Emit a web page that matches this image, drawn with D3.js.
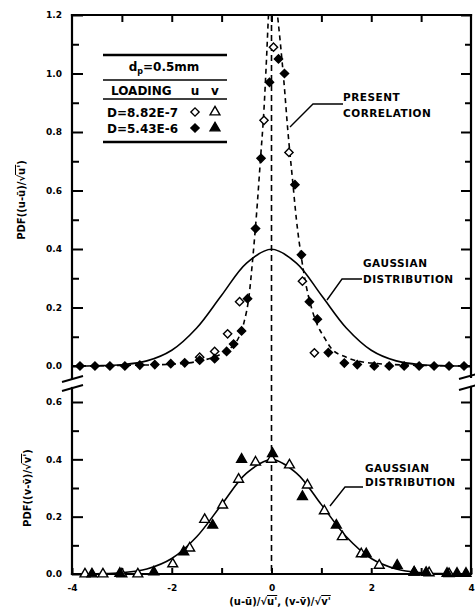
<!DOCTYPE html>
<html>
<head>
<meta charset="utf-8">
<script src="https://cdn.jsdelivr.net/npm/d3@7"></script>
<style>
  html, body { margin: 0; padding: 0; background: #fff; }
  svg { display: block; }
  text { font-family: "DejaVu Sans", "Liberation Sans", Arial, sans-serif; font-weight: bold; fill: #000; }
</style>
</head>
<body>
<div id="chart"></div>
<script>
// ---------------- DATA ----------------
// Top panel: u-component PDF
const uHollowX = [-1.44, -1.14, -0.88, -0.64, -0.15, 0.04, 0.35, 0.62, 0.86];          // D=8.82E-7 (open diamond)
const uHollowY = [0.03, 0.05, 0.11, 0.22, 0.84, 1.09, 0.73, 0.29, 0.045];
const uFilledX = [-3.84, -3.54, -3.24, -2.94, -2.64, -2.34, -2.02, -1.74, -1.44, -1.14, -0.9, -0.76, -0.6, -0.48, -0.32, -0.21, -0.04, 0.14, 0.26, 0.47, 0.6, 0.76, 0.92, 1.14, 1.46, 1.72, 2.06, 2.36, 2.66, 2.96, 3.26, 3.56, 3.86];  // D=5.43E-6 (filled diamond)
const uFilledY = [0, 0, 0, 0, 0.003, 0.005, 0.008, 0.011, 0.02, 0.025, 0.05, 0.075, 0.12, 0.23, 0.47, 0.71, 0.97, 1.05, 1.0, 0.62, 0.38, 0.22, 0.16, 0.046, 0.01, 0.005, 0, 0, 0, 0, 0, 0, 0];

// Present correlation (dashed)
const corrX = [-4, -3, -2, -1.5, -1.2, -1.0, -0.8, -0.65, -0.55, -0.45, -0.38, -0.3, -0.22, -0.15, -0.1, -0.06, 0.03, 0.12, 0.18, 0.25, 0.33, 0.42, 0.5, 0.6, 0.7, 0.8, 0.92, 1.05, 1.2, 1.5, 2, 3, 4];
const corrY = [0, 0.002, 0.006, 0.015, 0.028, 0.042, 0.065, 0.1, 0.15, 0.24, 0.36, 0.52, 0.71, 0.88, 1.05, 1.2, 1.34, 1.2, 1.1, 0.97, 0.8, 0.64, 0.5, 0.37, 0.27, 0.2, 0.14, 0.1, 0.06, 0.03, 0.01, 0.002, 0];

// Gaussian distribution (solid), same in both panels
const gaussX = [-4, -3.5, -3, -2.5, -2, -1.5, -1, -0.5, 0, 0.5, 1, 1.5, 2, 2.5, 3, 3.5, 4];
const gaussY = [0.0001, 0.0009, 0.0044, 0.0175, 0.054, 0.13, 0.242, 0.352, 0.399, 0.352, 0.242, 0.13, 0.054, 0.0175, 0.0044, 0.0009, 0.0001];

// Bottom panel: v-component PDF
const vHollowX = [-3.74, -3.38, -3.0, -2.68, -1.98, -1.64, -1.34, -0.98, -0.66, -0.32, 0.0, 0.36, 0.72, 1.06, 1.42, 1.8, 2.16, 2.86, 3.16, 3.56];  // D=8.82E-7 (open triangle)
const vHollowY = [0, 0, 0, 0, 0.035, 0.09, 0.19, 0.24, 0.33, 0.39, 0.40, 0.38, 0.31, 0.22, 0.13, 0.07, 0.03, 0.006, 0.004, 0.001];
const vFilledX = [-3.6, -3.04, -2.36, -1.76, -1.18, -0.6, 0.02, 0.62, 1.3, 1.9, 2.52, 2.86, 3.1, 3.52, 3.72, 3.9];  // D=5.43E-6 (filled triangle)
const vFilledY = [0, 0.002, 0.007, 0.077, 0.17, 0.40, 0.42, 0.27, 0.17, 0.07, 0.03, 0.006, 0.005, 0.002, 0.002, 0.002];

// Ticks
const xTicks = [-4, -3, -2, -1, 0, 1, 2, 3, 4];
const xTickLabels = [-4, -2, 0, 2, 4];
const yTopMajor = [0, 0.2, 0.4, 0.6, 0.8, 1.0, 1.2];
const yTopMinor = [0.1, 0.3, 0.5, 0.7, 0.9, 1.1];
const yBotMajor = [0, 0.2, 0.4, 0.6];
const yBotMinor = [0.1, 0.3, 0.5];

// ---------------- CHART ----------------
const W = 475, H = 608;
const svg = d3.select("#chart").append("svg").attr("width", W).attr("height", H);

const x = d3.scaleLinear().domain([-4, 4]).range([72, 471]);
const yTop = d3.scaleLinear().domain([0, 1.2]).range([366, 15]);
const yBot = d3.scaleLinear().domain([0, 0.6]).range([574, 402]);

const defs = svg.append("defs");
defs.append("clipPath").attr("id", "clipTop").append("rect")
  .attr("x", x(-4)).attr("y", yTop(1.2)).attr("width", x(4) - x(-4)).attr("height", yTop(0) - yTop(1.2) + 6);
defs.append("clipPath").attr("id", "clipBot").append("rect")
  .attr("x", x(-4)).attr("y", yBot(0.63)).attr("width", x(4) - x(-4)).attr("height", yBot(0) - yBot(0.63));

const fmtY = d3.format(".1f");
const fmtX = d => (d < 0 ? "-" + (-d) : String(d));

function styleAxis(g, w) {
  g.select(".domain").remove();
  g.selectAll(".tick line").attr("stroke", "#000").attr("stroke-width", w);
  g.selectAll(".tick text").style("font-size", "9px").style("font-family", "'DejaVu Sans', sans-serif").style("font-weight", "bold");
}

// Left axes (ticks inward)
svg.append("g").attr("transform", `translate(${x(-4)},0)`)
  .call(d3.axisLeft(yTop).tickValues(yTopMajor).tickSize(-11).tickPadding(10).tickFormat(fmtY))
  .call(g => styleAxis(g, 2));
svg.append("g").attr("transform", `translate(${x(-4)},0)`)
  .call(d3.axisLeft(yTop).tickValues(yTopMinor).tickSize(-7).tickFormat(""))
  .call(g => styleAxis(g, 2));
svg.append("g").attr("transform", `translate(${x(-4)},0)`)
  .call(d3.axisLeft(yBot).tickValues(yBotMajor).tickSize(-11).tickPadding(10).tickFormat(fmtY))
  .call(g => styleAxis(g, 2));
svg.append("g").attr("transform", `translate(${x(-4)},0)`)
  .call(d3.axisLeft(yBot).tickValues(yBotMinor).tickSize(-7).tickFormat(""))
  .call(g => styleAxis(g, 2));

// Right axes (ticks inward, no labels)
svg.append("g").attr("transform", `translate(${x(4)},0)`)
  .call(d3.axisRight(yTop).tickValues(yTopMajor).tickSize(-10).tickFormat(""))
  .call(g => styleAxis(g, 2));
svg.append("g").attr("transform", `translate(${x(4)},0)`)
  .call(d3.axisRight(yTop).tickValues(yTopMinor).tickSize(-6).tickFormat(""))
  .call(g => styleAxis(g, 2));
svg.append("g").attr("transform", `translate(${x(4)},0)`)
  .call(d3.axisRight(yBot).tickValues(yBotMajor).tickSize(-10).tickFormat(""))
  .call(g => styleAxis(g, 2));
svg.append("g").attr("transform", `translate(${x(4)},0)`)
  .call(d3.axisRight(yBot).tickValues(yBotMinor).tickSize(-6).tickFormat(""))
  .call(g => styleAxis(g, 2));

// Top border ticks
svg.append("g").attr("transform", `translate(0,${yTop(1.2)})`)
  .call(d3.axisBottom(x).tickValues(xTicks.slice(1, -1)).tickSize(7).tickFormat(""))
  .call(g => styleAxis(g, 2));

// Bottom x axis
svg.append("g").attr("transform", `translate(0,${yBot(0)})`)
  .call(d3.axisBottom(x).tickValues(xTicks).tickSize(-6).tickPadding(11)
    .tickFormat(d => xTickLabels.includes(d) ? fmtX(d) : ""))
  .call(g => styleAxis(g, 2));

// Axis lines with break
const axisLines = [
  [x(-4), yTop(1.2), x(4), yTop(1.2)],          // top border
  [x(-4), yTop(1.2), x(-4), 378],               // left upper
  [x(-4), 388, x(-4), yBot(0)],                 // left lower
  [x(4), yTop(1.2), x(4), 377],                 // right upper
  [x(4), 387, x(4), yBot(0)],                   // right lower
  [x(-4), yBot(0), x(4), yBot(0)]               // bottom
];
svg.append("g").selectAll("line").data(axisLines).join("line")
  .attr("x1", d => d[0]).attr("y1", d => d[1]).attr("x2", d => d[2]).attr("y2", d => d[3])
  .attr("stroke", "#000").attr("stroke-width", 2.2).attr("stroke-linecap", "square");

// Break marks
const breaks = [
  [x(-4) - 10, 382, x(-4) + 11, 376], [x(-4) - 10, 391, x(-4) + 11, 385],
  [x(4) - 12, 379, x(4) + 6, 374], [x(4) - 12, 390, x(4) + 6, 385]
];
svg.append("g").selectAll("line").data(breaks).join("line")
  .attr("x1", d => d[0]).attr("y1", d => d[1]).attr("x2", d => d[2]).attr("y2", d => d[3])
  .attr("stroke", "#000").attr("stroke-width", 2);

// Vertical dashed line at x = 0 through both panels
svg.append("line")
  .attr("x1", x(0)).attr("x2", x(0)).attr("y1", yTop(1.2)).attr("y2", yBot(0))
  .attr("stroke", "#000").attr("stroke-width", 1.6).attr("stroke-dasharray", "6,4");

// Curves
const gaussData = gaussX.map((v, i) => [v, gaussY[i]]);
const corrData = corrX.map((v, i) => [v, corrY[i]]);

const topLine = d3.line().x(d => x(d[0])).y(d => yTop(d[1])).curve(d3.curveCatmullRom.alpha(0.5));
const botLine = d3.line().x(d => x(d[0])).y(d => yBot(d[1])).curve(d3.curveCatmullRom.alpha(0.5));

const gTop = svg.append("g").attr("clip-path", "url(#clipTop)");
gTop.append("path").attr("d", topLine(gaussData)).attr("fill", "none").attr("stroke", "#000").attr("stroke-width", 1.6);
gTop.append("path").attr("d", d3.line().x(d => x(d[0])).y(d => yTop(d[1])).curve(d3.curveMonotoneX)(corrData))
  .attr("fill", "none").attr("stroke", "#000").attr("stroke-width", 1.6).attr("stroke-dasharray", "5,4");

const gBot = svg.append("g").attr("clip-path", "url(#clipBot)");
gBot.append("path").attr("d", botLine(gaussData)).attr("fill", "none").attr("stroke", "#000").attr("stroke-width", 1.6);

// Markers
const diamond = d3.symbol().type(d3.symbolSquare).size(34)();
const triangle = d3.symbol().type(d3.symbolTriangle).size(42)();

function drawMarkers(xs, ys, yScale, path, filled, rot) {
  svg.append("g").selectAll("path").data(xs.map((v, i) => [v, ys[i]])).join("path")
    .attr("d", path)
    .attr("transform", d => `translate(${x(d[0])},${yScale(d[1])}) rotate(${rot})`)
    .attr("fill", filled ? "#000" : "#fff")
    .attr("stroke", "#000").attr("stroke-width", 1.4);
}
drawMarkers(uHollowX, uHollowY, yTop, diamond, false, 45);
drawMarkers(uFilledX, uFilledY, yTop, diamond, true, 45);
drawMarkers(vHollowX, vHollowY, yBot, triangle, false, 0);
drawMarkers(vFilledX, vFilledY, yBot, triangle, true, 0);

// Annotations
function label(lines, x0, y0, dy) {
  const t = svg.append("text").attr("x", x0).attr("y", y0)
    .style("font-size", "10.5px").style("letter-spacing", "0.5px");
  lines.forEach((s, i) => t.append("tspan").attr("x", x0).attr("y", y0 + i * dy).text(s));
}
label(["PRESENT", "CORRELATION"], 343, 101, 16);
label(["GAUSSIAN", "DISTRIBUTION"], 363, 267, 16);
label(["GAUSSIAN", "DISTRIBUTION"], 365, 472, 13.5);

const leaders = [
  [[343, 104], [313, 104], [290, 127]],
  [[362, 279], [342, 279], [327, 300]],
  [[363, 487], [345, 487], [330, 506]]
];
svg.append("g").selectAll("path").data(leaders).join("path")
  .attr("d", d => d3.line()(d)).attr("fill", "none").attr("stroke", "#000").attr("stroke-width", 1.4);

// Legend
const lg = svg.append("g");
[[55, 2.5], [80, 1.6], [99, 1.6], [142, 2.5]].forEach(([yy, w]) => {
  lg.append("line").attr("x1", 103).attr("x2", 227).attr("y1", yy).attr("y2", yy)
    .attr("stroke", "#000").attr("stroke-width", w);
});
const dp = lg.append("text").attr("x", 164).attr("y", 71).attr("text-anchor", "middle").style("font-size", "12px");
dp.append("tspan").text("d");
dp.append("tspan").attr("dy", 3).style("font-size", "8px").text("p");
dp.append("tspan").attr("dy", -3).text("=0.5mm");
lg.append("text").attr("x", 111).attr("y", 95).style("font-size", "12px").text("LOADING");
lg.append("text").attr("x", 195).attr("y", 95).attr("text-anchor", "middle").style("font-size", "12px").text("u");
lg.append("text").attr("x", 215).attr("y", 95).attr("text-anchor", "middle").style("font-size", "12px").text("v");
lg.append("text").attr("x", 107).attr("y", 117).style("font-size", "12px").text("D=8.82E-7");
lg.append("text").attr("x", 107).attr("y", 133).style("font-size", "12px").text("D=5.43E-6");
lg.append("path").attr("d", diamond).attr("transform", "translate(195,112) rotate(45)").attr("fill", "#fff").attr("stroke", "#000").attr("stroke-width", 1.4);
lg.append("path").attr("d", triangle).attr("transform", "translate(215,112)").attr("fill", "#fff").attr("stroke", "#000").attr("stroke-width", 1.4);
lg.append("path").attr("d", diamond).attr("transform", "translate(195,128) rotate(45)").attr("fill", "#000").attr("stroke", "#000").attr("stroke-width", 1.4);
lg.append("path").attr("d", triangle).attr("transform", "translate(215,128)").attr("fill", "#000").attr("stroke", "#000").attr("stroke-width", 1.4);

// Axis titles
function overlined(t, s) {
  t.append("tspan").style("text-decoration", "overline").text(s);
}
const yt1 = svg.append("text").attr("transform", "translate(25,200) rotate(-90)").attr("text-anchor", "middle").style("font-size", "10px");
yt1.append("tspan").text("PDF((u-ū)/√");
overlined(yt1, "u'");
yt1.append("tspan").text(")");

const yt2 = svg.append("text").attr("transform", "translate(31,488) rotate(-90)").attr("text-anchor", "middle").style("font-size", "10px");
yt2.append("tspan").text("PDF((v-v̄)/√");
overlined(yt2, "v'");
yt2.append("tspan").text(")");

const xt = svg.append("text").attr("x", 280).attr("y", 605).attr("text-anchor", "middle").style("font-size", "10px");
xt.append("tspan").text("(u-ū)/√");
overlined(xt, "u'");
xt.append("tspan").text(", (v-v̄)/√");
overlined(xt, "v'");
</script>
</body>
</html>
